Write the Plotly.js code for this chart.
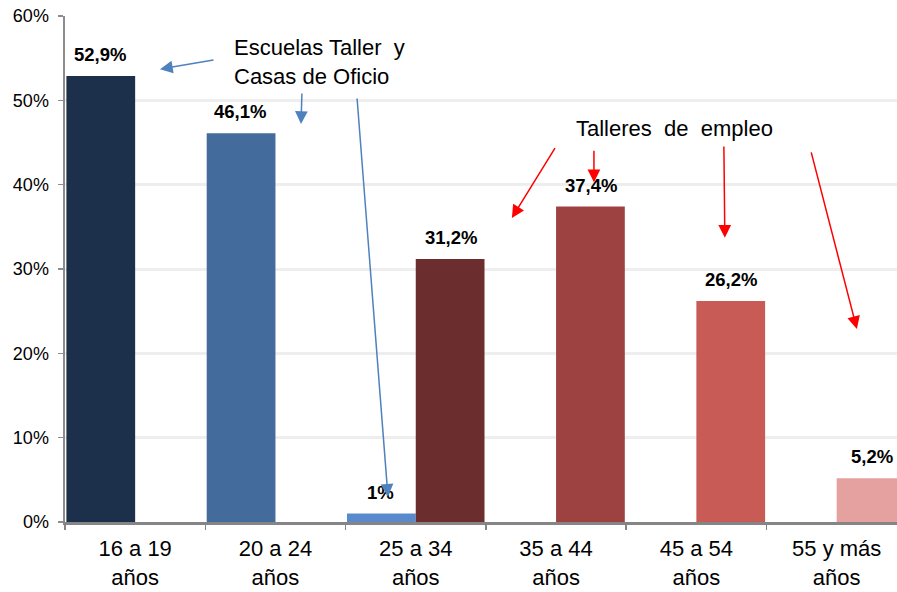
<!DOCTYPE html>
<html>
<head>
<meta charset="utf-8">
<script src="https://cdn.plot.ly/plotly-3.0.1.min.js"></script>
<style>html,body{margin:0;padding:0;background:#fff;}#chart{width:897px;height:592px;}</style>
</head>
<body>
<div id="chart"></div>
<script>
// ---- data ----
const categories = ['16 a 19<br>años', '20 a 24<br>años', '25 a 34<br>años', '35 a 44<br>años', '45 a 54<br>años', '55 y más<br>años'];
const escuelasTaller = [52.9, 46.1, 1, null, null, null];
const talleresEmpleo = [null, null, 31.2, 37.4, 26.2, 5.2];
const blueColors = ['#1C304C', '#436B9B', '#5A8ACB', '#5A8ACB', '#5A8ACB', '#5A8ACB'];
const redColors = ['#6B2D2E', '#6B2D2E', '#6B2D2E', '#9E4241', '#C95B57', '#E5A19F'];
const yTickVals = [0, 10, 20, 30, 40, 50, 60];
const yTickText = ['0%', '10%', '20%', '30%', '40%', '50%', '60%'];

function fmt(v) {
  return (v % 1 === 0 ? String(v) : v.toFixed(1).replace('.', ',')) + '%';
}

const font = 'Liberation Sans, Arial, sans-serif';

const traces = [
  {type: 'bar', name: 'Escuelas Taller y Casas de Oficio', x: categories, y: escuelasTaller,
   marker: {color: blueColors, line: {width: 0}}, hoverinfo: 'none'},
  {type: 'bar', name: 'Talleres de empleo', x: categories, y: talleresEmpleo,
   marker: {color: redColors, line: {width: 0}}, hoverinfo: 'none'}
];

const annotations = [];
[[escuelasTaller, -35], [talleresEmpleo, 35]].forEach(([series, shift]) => {
  series.forEach((v, i) => {
    if (v === null) return;
    annotations.push({x: i, y: v, xref: 'x', yref: 'y', text: '<b>' + fmt(v) + '</b>',
      showarrow: false, xshift: shift, yshift: 9, yanchor: 'bottom', xanchor: 'center',
      font: {family: font, size: 18.5, color: '#000'}});
  });
});

// text callouts
annotations.push({x: 0.69, y: 54.6, xref: 'x', yref: 'y', xanchor: 'left', yanchor: 'middle', align: 'left',
  text: 'Escuelas Taller  y<br>Casas de Oficio', showarrow: false,
  font: {family: font, size: 22, color: '#000'}});
annotations.push({x: 3.847, y: 46.7, xref: 'x', yref: 'y', xanchor: 'center', yanchor: 'middle',
  text: 'Talleres  de  empleo', showarrow: false,
  font: {family: font, size: 22, color: '#000'}});

// arrows: [headX, headY, tailX, tailY]
const blueArrows = [[0.177, 53.7, 0.569, 54.8], [1.182, 47.2, 1.189, 51.0], [1.802, 3.0, 1.581, 50.4]];
const redArrows = [[2.685, 36.05, 2.999, 44.5], [3.270, 40.3, 3.270, 44.2], [4.203, 33.7, 4.196, 44.7], [5.144, 22.9, 4.816, 44.0]];
function addArrow(a, color) {
  annotations.push({x: a[0], y: a[1], ax: a[2], ay: a[3], xref: 'x', yref: 'y', axref: 'x', ayref: 'y',
    text: '', showarrow: true, arrowhead: 2, arrowsize: 1.7, arrowwidth: 1.5, arrowcolor: color, standoff: 0});
}
blueArrows.forEach(a => addArrow(a, '#4F81BD'));
redArrows.forEach(a => addArrow(a, '#FF0000'));

const layout = {
  width: 897, height: 592,
  margin: {l: 65, r: 0, t: 16, b: 70},
  paper_bgcolor: '#fff', plot_bgcolor: '#fff',
  showlegend: false,
  barmode: 'group', bargap: 0.02, bargroupgap: 0,
  font: {family: font, color: '#000'},
  xaxis: {
    type: 'category', range: [-0.5, 5.43], fixedrange: true,
    showgrid: false, showline: true, linecolor: '#858585', linewidth: 2.5,
    ticks: 'outside', tickson: 'boundaries', ticklen: 5, tickcolor: '#858585', tickwidth: 1.5,
    tickfont: {family: font, size: 22, color: '#000'}, ticklabelstandoff: 5
  },
  yaxis: {
    range: [0, 60], fixedrange: true,
    tickvals: yTickVals, ticktext: yTickText,
    showgrid: true, gridcolor: '#EEEEEE', gridwidth: 3,
    showline: true, linecolor: '#8C8C8C', linewidth: 2.5, zeroline: false,
    ticks: 'outside', ticklen: 5, tickcolor: '#8C8C8C', tickwidth: 1.5,
    tickfont: {family: font, size: 18, color: '#000'}, ticklabelstandoff: 5
  },
  annotations: annotations
};

Plotly.newPlot('chart', traces, layout, {displayModeBar: false, staticPlot: true});
</script>
</body>
</html>
